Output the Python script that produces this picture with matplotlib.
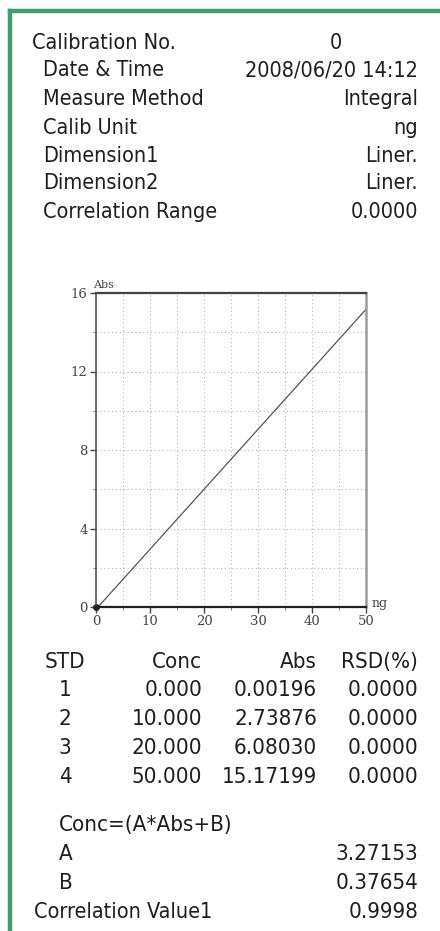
import matplotlib
matplotlib.use("Agg")
import matplotlib.pyplot as plt
from matplotlib.lines import Line2D

# header block
info_labels = ["Calibration No.", "Date & Time", "Measure Method", "Calib Unit",
               "Dimension1", "Dimension2", "Correlation Range"]
info_values = ["0", "2008/06/20 14:12", "Integral", "ng", "Liner.", "Liner.", "0.0000"]

# standards table
std_no = [1, 2, 3, 4]
conc = [0.000, 10.000, 20.000, 50.000]
absorb = [0.00196, 2.73876, 6.08030, 15.17199]
rsd = [0.0, 0.0, 0.0, 0.0]

coef_a = 3.27153
coef_b = 0.37654
corr_value = 0.9998

x_ticks = [0, 10, 20, 30, 40, 50]
y_ticks = [0, 4, 8, 12, 16]

W, H = 440, 931
fig = plt.figure(figsize=(W / 100, H / 100), dpi=100)
ink = "#1e1e1e"
green = "#3f9e6e"
font = dict(family="DejaVu Sans", stretch="condensed", color=ink)


def px(x, y):
    return x / W, 1 - y / H


def put(x, y, s, size=15.5, ha="left"):
    fig.text(*px(x, y), s, ha=ha, va="center", fontsize=size, **font)


# green frame
fig.add_artist(Line2D([10 / W, 10 / W], [0, 1 - 11 / H], color=green, lw=3.2, transform=fig.transFigure))
fig.add_artist(Line2D([10 / W, 1], [1 - 11 / H, 1 - 11 / H], color=green, lw=3.2, transform=fig.transFigure))

# header
rows_y = [43, 70, 99, 128, 156, 183, 212]
for i, (lab, val) in enumerate(zip(info_labels, info_values)):
    put(32 if i == 0 else 43, rows_y[i], lab)
    if i == 0:
        put(336, rows_y[i], val, ha="center")
    else:
        put(418, rows_y[i], val, ha="right")

# chart: fitted line Conc = A*Abs + B, drawn over the conc range
ax = fig.add_axes([96 / W, 1 - 607 / H, 270 / W, 314 / H])
fit_x = [conc[0], conc[-1]]
fit_y = [(c - coef_b) / coef_a for c in fit_x]
ax.plot(fit_x, fit_y, color="#555555", lw=0.9, clip_on=True)
ax.plot(conc[:1], absorb[:1], "o", ms=4, color="#222222", clip_on=False)
ax.set_xlim(0, 50)
ax.set_ylim(0, 16)
ax.set_xticks(x_ticks)
ax.set_yticks(y_ticks)
ax.set_xticks(range(0, 51, 5), minor=True)
ax.set_yticks(range(0, 17, 2), minor=True)
ax.grid(True, which="both", color="#a8a8a8", lw=0.7, ls=(0, (1, 3)))
ax.tick_params(which="major", length=4, width=1, color="#444444", labelsize=9.5,
               labelcolor="#444444", pad=2)
ax.tick_params(which="minor", length=2, color="#666666")
for lab in ax.get_xticklabels() + ax.get_yticklabels():
    lab.set_family("DejaVu Serif")
for side, c, w in [("left", "#555555", 1.2), ("bottom", "#222222", 1.6),
                   ("top", "#444444", 1.6), ("right", "#9a9a9a", 1.8)]:
    ax.spines[side].set_color(c)
    ax.spines[side].set_linewidth(w)
ax.text(-0.01, 1.01, "Abs", transform=ax.transAxes, ha="left", va="bottom",
        fontsize=8, family="DejaVu Serif", color="#444444")
ax.text(1.02, 0.01, "ng", transform=ax.transAxes, ha="left", va="center",
        fontsize=9, family="DejaVu Serif", color="#444444")

# table
put(65, 662, "STD", size=16, ha="center")
put(202, 662, "Conc", size=16, ha="right")
put(317, 662, "Abs", size=16, ha="right")
put(418, 662, "RSD(%)", size=16, ha="right")
for i, n in enumerate(std_no):
    y = 690 + i * 29
    put(65, y, str(n), size=16, ha="center")
    put(202, y, f"{conc[i]:.3f}", size=16, ha="right")
    put(317, y, f"{absorb[i]:.5f}", size=16, ha="right")
    put(418, y, f"{rsd[i]:.4f}", size=16, ha="right")

put(59, 825, "Conc=(A*Abs+B)", size=16)
put(59, 854, "A", size=16)
put(418, 854, f"{coef_a:.5f}", size=16, ha="right")
put(59, 883, "B", size=16)
put(418, 883, f"{coef_b:.5f}", size=16, ha="right")
put(34, 912, "Correlation Value1", size=15.5)
put(418, 912, f"{corr_value:.4f}", size=16, ha="right")

fig.savefig("out.png", dpi=100, facecolor="white")
